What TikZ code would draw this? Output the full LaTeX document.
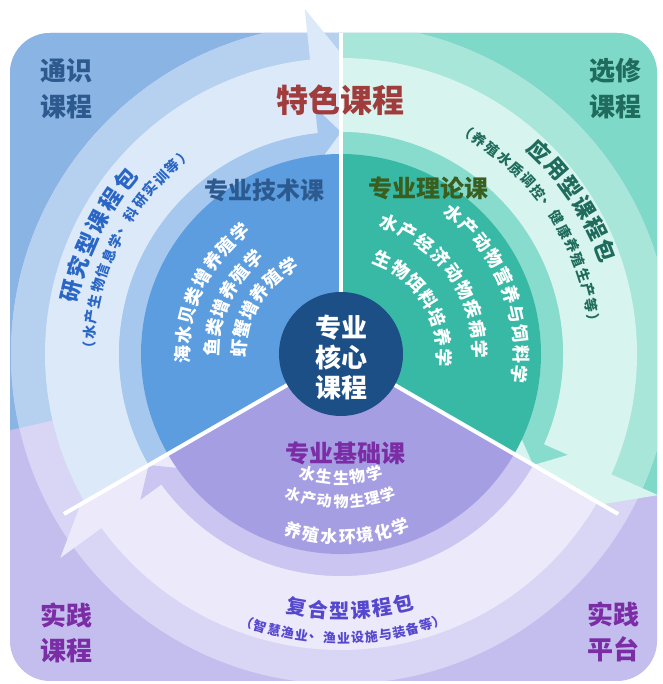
\documentclass[tikz,border=0pt]{standalone}
\usepackage{fontspec}
\newfontfamily\cjk{Noto Sans CJK SC}
\usetikzlibrary{calc}
\definecolor{bgB}{HTML}{8AB4E4}
\definecolor{rgB}{HTML}{B6D0F0}
\definecolor{ltB}{HTML}{DCE9F8}
\definecolor{r2B}{HTML}{A6C8EF}
\definecolor{inB}{HTML}{5C9DE0}
\definecolor{bgT}{HTML}{7FD9C8}
\definecolor{rgT}{HTML}{A8E6DA}
\definecolor{ltT}{HTML}{D7F4EF}
\definecolor{r2T}{HTML}{88DCCD}
\definecolor{inT}{HTML}{38B9A6}
\definecolor{bgP}{HTML}{C4BEEE}
\definecolor{rgP}{HTML}{D9D5F5}
\definecolor{ltP}{HTML}{EBE9FA}
\definecolor{r2P}{HTML}{CAC5F1}
\definecolor{inP}{HTML}{A69EE3}
\definecolor{core}{HTML}{1D4F87}
\definecolor{txB}{HTML}{2D5A8E}
\definecolor{txBc}{HTML}{2A66C6}
\definecolor{txT}{HTML}{1F6B5C}
\definecolor{txG}{HTML}{3A5E1E}
\definecolor{txP}{HTML}{7B2DA6}
\definecolor{txPc}{HTML}{5548CF}
\definecolor{txR}{HTML}{A03C3C}
% clockwise band arrow: color, start angle, head base angle, r_in, r_out, wing in, wing out, tip angle, tip r
\newcommand\cwband[9]{%
  \fill[#1] ($(C)+(#2:#5pt)$) arc[start angle=#2, end angle=#3, radius=#5pt]
    -- ($(C)+(#3:#7pt)$) -- ($(C)+(#8:#9pt)$) -- ($(C)+(#3:#6pt)$)
    -- ($(C)+(#3:#4pt)$) arc[start angle=#3, end angle=#2, radius=#4pt] -- cycle;}
% text along arc, clockwise, tops outward: r, mid angle, step px, n, style, list, name
\newcommand\arcout[7]{%
  \pgfmathsetmacro\stepdeg{#3/#1*57.2958}%
  \foreach \ch [count=\k] in {#6}{%
    \pgfmathsetmacro\ang{#2-(\k-(#4+1)/2)*\stepdeg}%
    \pgfmathsetmacro\rot{\ang-90}%
    \node[#5, rotate=\rot] (#7\k) at ($(C)+(\ang:#1pt)$) {\ch};}}
% text along arc, counterclockwise, tops inward
\newcommand\arcin[7]{%
  \pgfmathsetmacro\stepdeg{#3/#1*57.2958}%
  \foreach \ch [count=\k] in {#6}{%
    \pgfmathsetmacro\ang{#2+(\k-(#4+1)/2)*\stepdeg}%
    \pgfmathsetmacro\rot{\ang+90}%
    \node[#5, rotate=\rot] (#7\k) at ($(C)+(\ang:#1pt)$) {\ch};}}
\tikzset{
  ch/.style={inner sep=0pt, anchor=center},
  w18/.style={ch, text=white, font=\cjk\bfseries\fontsize{18}{18}\selectfont},
  w16/.style={ch, text=white, font=\cjk\bfseries\fontsize{16}{16}\selectfont},
  w15/.style={ch, text=white, font=\cjk\bfseries\fontsize{15}{15}\selectfont},
  w17/.style={ch, text=white, font=\cjk\bfseries\fontsize{17}{17}\selectfont},
  cB22/.style={ch, text=txBc, font=\cjk\bfseries\fontsize{22}{22}\selectfont},
  cB14/.style={ch, text=txBc, font=\cjk\bfseries\fontsize{14}{14}\selectfont},
  cT22/.style={ch, text=txT, font=\cjk\bfseries\fontsize{22}{22}\selectfont},
  cT14/.style={ch, text=txT, font=\cjk\bfseries\fontsize{14}{14}\selectfont},
  cP20/.style={ch, text=txPc, font=\cjk\bfseries\fontsize{20}{20}\selectfont},
  cP13/.style={ch, text=txPc, font=\cjk\bfseries\fontsize{13}{13}\selectfont},
  corner/.style={inner sep=0pt, align=center, font=\cjk\bfseries\fontsize{26}{36}\selectfont},
  head/.style={inner sep=0pt, font=\cjk\bfseries\fontsize{24}{24}\selectfont},
  divider/.style={white, line width=4pt}
}
\begin{document}
\begin{tikzpicture}[x=1pt,y=1pt]
\useasboundingbox (0,0) rectangle (662,684);
\coordinate (C) at (341,330);
% panel background
\begin{scope}
  \clip[rounded corners=40pt] (10,3) rectangle (657,651);
  \fill[bgP] (0,0) rectangle (662,684);
  \fill[bgB] (C) -- (341,700) -- (-50,700) -- (-50,240) -- cycle;
  \fill[bgT] (C) -- (341,700) -- (700,700) -- (700,170) -- cycle;
  \begin{scope}
    \clip (C) circle (330pt);
    \fill[rgP] (0,0) rectangle (662,684);
    \fill[rgB] (C) -- (341,700) -- (-50,700) -- (-50,240) -- cycle;
    \fill[rgT] (C) -- (341,700) -- (700,700) -- (700,170) -- cycle;
  \end{scope}
\end{scope}
% blue sector
\begin{scope}
  \clip (C) -- +(90:500pt) -- +(150:1000pt) -- +(210:500pt) -- cycle;
  \cwband{ltB}{210}{96}{222}{296}{171}{347}{82}{259}
  \cwband{r2B}{210}{96}{200}{222}{195}{248}{90}{222}
  \fill[inB] (C) -- +(90:200pt) arc[start angle=90, end angle=210, radius=200pt] -- cycle;
\end{scope}
% teal sector
\begin{scope}
  \clip (C) -- +(-30:500pt) -- +(30:1000pt) -- +(90:500pt) -- cycle;
  \cwband{ltT}{90}{-24}{222}{296}{171}{347}{-38}{259}
  \cwband{r2T}{90}{-24}{200}{222}{195}{248}{-30}{222}
  \fill[inT] (C) -- +(90:200pt) arc[start angle=90, end angle=-30, radius=200pt] -- cycle;
\end{scope}
% purple sector
\begin{scope}
  \clip (C) -- +(210:500pt) -- +(270:1000pt) -- +(330:500pt) -- cycle;
  \cwband{ltP}{330}{216}{222}{296}{171}{347}{202}{259}
  \cwband{r2P}{330}{216}{200}{222}{195}{248}{210}{222}
  \fill[inP] (C) -- +(330:200pt) arc[start angle=330, end angle=210, radius=200pt] -- cycle;
\end{scope}
% dividers
\draw[divider] (C) -- +(90:321pt);
\draw[divider] (C) -- +(210:320pt);
\draw[divider] (C) -- +(330:320pt);
% core
\node[circle, fill=core, minimum size=124pt, inner sep=0pt] (core) at (C) {};
\node[inner sep=0pt, align=center, text=white, font=\cjk\bfseries\fontsize{26}{30}\selectfont] (coretext) at (341,326) {专业\\核心\\课程};
% corner labels
\node[corner, text=txB] (tongshi) at (66,595) {通识\\课程};
\node[corner, text=txT] (xuanxiu) at (615,595) {选修\\课程};
\node[corner, text=txP, font=\cjk\bfseries\fontsize{26}{35}\selectfont] (shijian1) at (66,51.5) {实践\\课程};
\node[corner, text=txP, font=\cjk\bfseries\fontsize{26}{35}\selectfont] (shijian2) at (613,52) {实践\\平台};
\node[inner sep=0pt, text=txR, font=\cjk\bfseries\fontsize{32}{32}\selectfont] (tese) at (340,584) {特色课程};
% section heads
\node[head, text=txB] (jishu) at (264,494) {专业技术课};
\node[head, text=txG] (lilun) at (428,496) {专业理论课};
\node[head, text=txP] (jichu) at (345,231) {专业基础课};
% blue curved texts
\arcout{277}{154}{25}{6}{cB22}{研,究,型,课,程,包}{ya}
\arcout{252}{153.5}{15.8}{15}{cB14}{（,水,产,生,物,信,息,学,、,科,研,实,训,等,）}{yb}
\arcout{158}{155}{19.8}{8}{w18}{海,水,贝,类,增,养,殖,学}{ba}
\arcout{129}{155}{19.8}{6}{w18}{鱼,类,增,养,殖,学}{bb}
\arcout{102}{149}{19.8}{6}{w18}{虾,蟹,增,养,殖,学}{bc}
% teal curved texts
\arcout{284}{33.5}{24}{6}{cT22}{应,用,型,课,程,包}{za}
\arcout{255}{34}{15.8}{16}{cT14}{（,养,殖,水,质,调,控,、,健,康,养,殖,生,产,等,）}{zb}
\arcout{180}{22.4}{20.2}{10}{w18}{水,产,动,物,营,养,与,饲,料,学}{ta}
\arcout{139}{35.8}{20.5}{9}{w18}{水,产,经,济,动,物,疾,病,学}{tb}
\arcout{103}{32}{20.5}{7}{w18}{生,物,饵,料,培,养,学}{tc}
% purple curved texts
\arcin{124}{270}{17}{5}{w16}{水,生,生,物,学}{pa}
\arcin{148}{270}{16}{7}{w15}{水,产,动,物,生,理,学}{pb}
\arcin{183}{272}{18.2}{7}{w17}{养,殖,水,环,境,化,学}{pc}
\arcin{257}{272}{21.5}{6}{cP20}{复,合,型,课,程,包}{fa}
\arcin{284}{270.5}{14}{15}{cP13}{（,智,慧,渔,业,、,渔,业,设,施,与,装,备,等,）}{fb}
\end{tikzpicture}
\end{document}
